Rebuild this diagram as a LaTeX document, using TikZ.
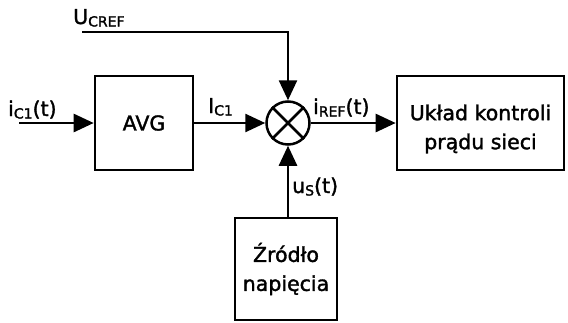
\documentclass[tikz,border=0pt]{standalone}
\usepackage{fontspec}
\setmainfont{DejaVu Sans}[FakeBold=1.6]
\usetikzlibrary{arrows.meta,calc}
\newcommand{\lowsub}[1]{\raisebox{-2.5pt}{\fontsize{14}{14}\selectfont #1}}
\tikzset{
  blk/.style={draw, line width=2.6pt, rectangle, inner sep=0pt},
  txt/.style={align=center, inner sep=0pt, font=\fontsize{20.5}{29}\selectfont},
  conn/.style={line width=2.6pt, -{Triangle[length=20pt,width=18pt]}},
  lbl/.style={inner sep=0pt, anchor=base west, font=\fontsize{20.5}{24}\selectfont},
}
\begin{document}
\begin{tikzpicture}[x=1pt,y=-1pt]
\useasboundingbox (0,0) rectangle (568,322);
\node[blk, txt, minimum width=98pt, minimum height=94pt] (avg) at (144,123) {AVG};
\node[draw, circle, line width=2.5pt, minimum size=43pt, inner sep=0pt] (sum) at (288,123) {};
\draw[line width=2.5pt] (sum.north west) -- (sum.south east) (sum.north east) -- (sum.south west);
\node[blk, minimum width=167pt, minimum height=94pt] (ctrl) at (480.5,123) {};
\node[txt] (ctrltxt) at (480.5,129) {Układ kontroli\\prądu sieci};
\node[blk, txt, minimum width=102pt, minimum height=102pt] (src) at (286,269) {Źródło\\napięcia};
\coordinate (in) at (19,123);
\coordinate (uc) at (82,32);
\draw[conn] (in) -- (avg.west);
\draw[conn] (avg.east) -- (sum.west);
\draw[conn] (sum.east) -- (ctrl.west);
\draw[conn] (uc) -| (sum.north);
\draw[conn] (src.north -| sum.south) -- (sum.south);
\node[lbl] (l1) at (8,116) {i\lowsub{C1}(t)};
\node[lbl] (l2) at (73,24) {U\lowsub{CREF}};
\node[lbl] (l3) at (208,113) {I\lowsub{C1}};
\node[lbl] (l4) at (313,114) {i\lowsub{REF}(t)};
\node[lbl] (l5) at (292,193) {u\lowsub{S}(t)};
\end{tikzpicture}
\end{document}
